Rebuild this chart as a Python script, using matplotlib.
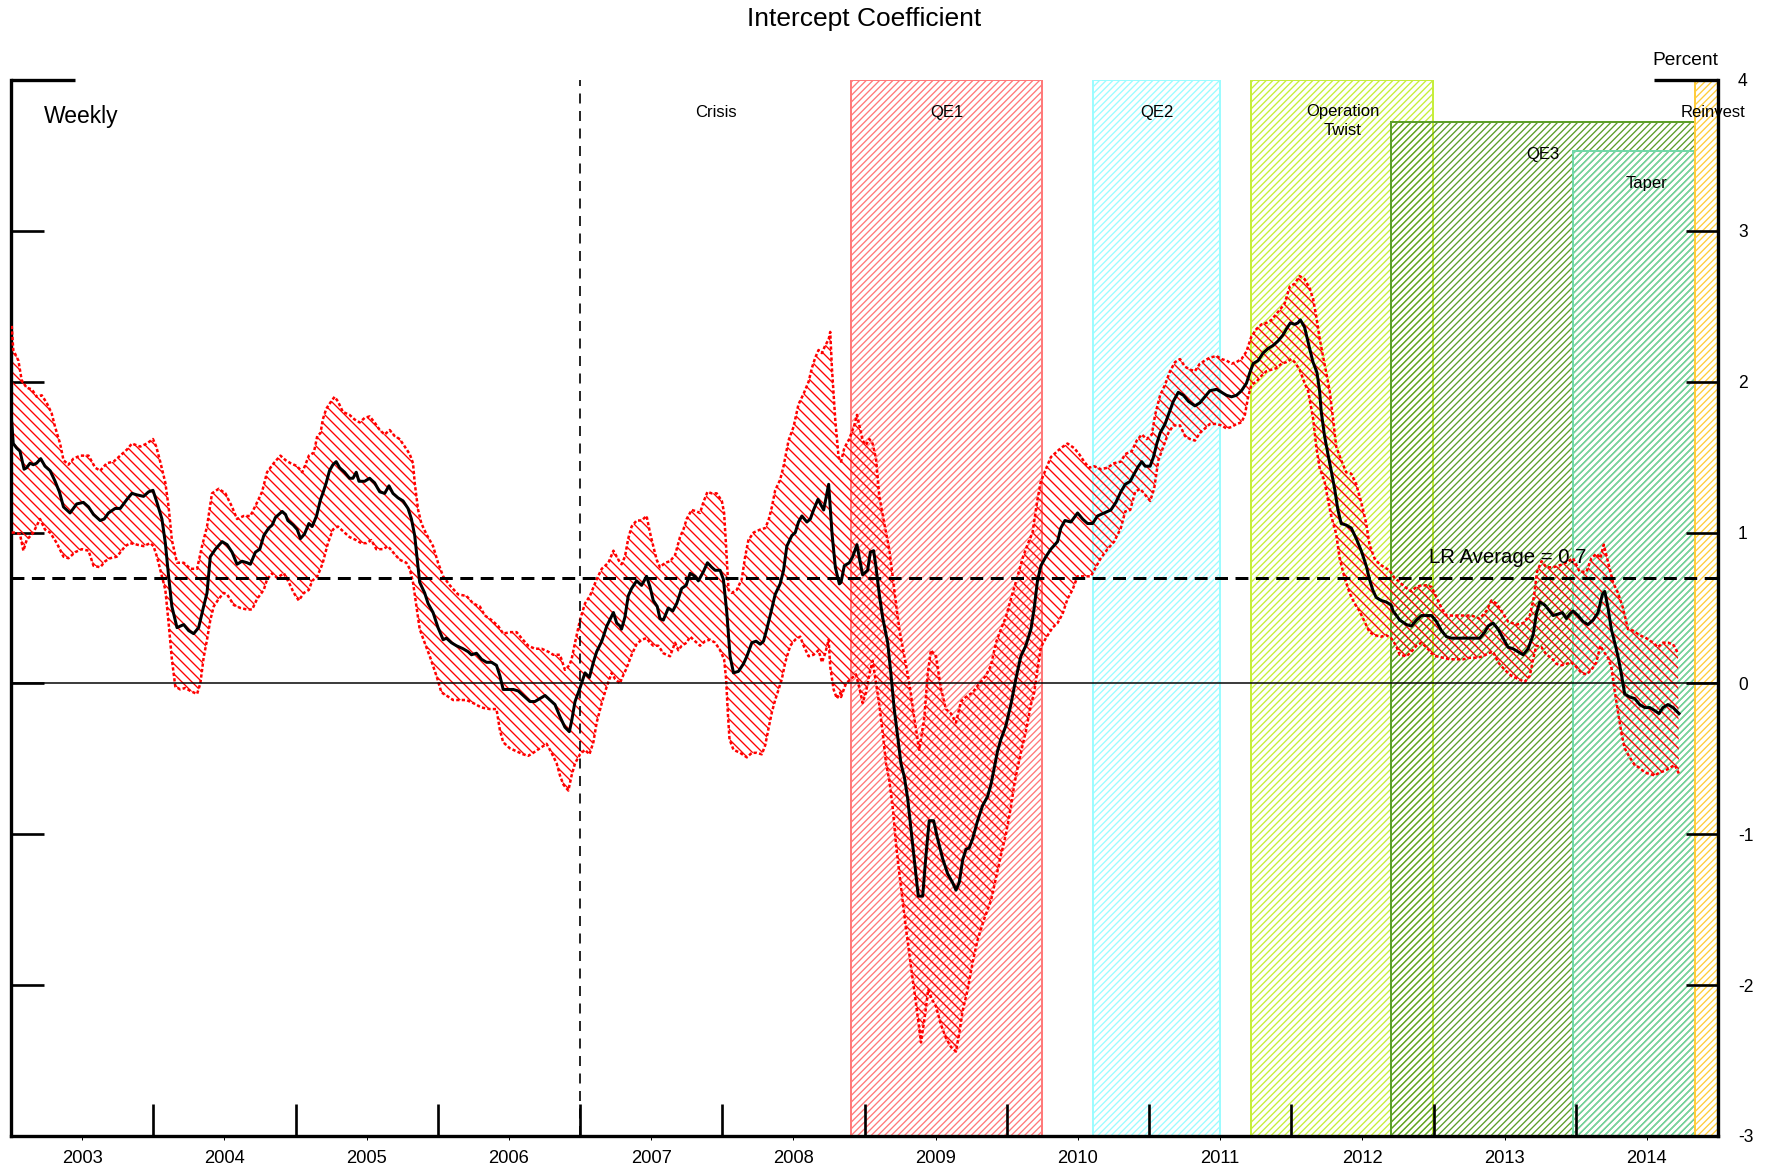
import matplotlib
matplotlib.use("Agg")
import matplotlib.pyplot as plt
from matplotlib.patches import Rectangle
import numpy as np

plt.rcParams['font.family'] = ['Liberation Sans', 'DejaVu Sans']
plt.rcParams['axes.unicode_minus'] = False
plt.rcParams['hatch.linewidth'] = 0.8

# ---------------- data (fractional year, percent) ----------------
LINE_X = [
    2003.005, 2003.016, 2003.040, 2003.063, 2003.092, 2003.110, 2003.134, 2003.157, 2003.180, 2003.209,
    2003.239, 2003.275, 2003.310, 2003.340, 2003.369, 2003.415, 2003.462, 2003.509, 2003.545, 2003.580,
    2003.627, 2003.655, 2003.685, 2003.732, 2003.768, 2003.815, 2003.850, 2003.885, 2003.932, 2003.967,
    2003.998, 2004.026, 2004.061, 2004.085, 2004.108, 2004.131, 2004.167, 2004.214, 2004.249, 2004.284,
    2004.319, 2004.354, 2004.378, 2004.401, 2004.437, 2004.484, 2004.519, 2004.554, 2004.589, 2004.624,
    2004.660, 2004.683, 2004.718, 2004.749, 2004.777, 2004.812, 2004.836, 2004.859, 2004.906, 2004.930,
    2004.946, 2004.984, 2005.012, 2005.035, 2005.063, 2005.094, 2005.117, 2005.148, 2005.176,
    2005.192, 2005.216, 2005.239, 2005.263, 2005.286, 2005.310, 2005.345, 2005.380, 2005.404, 2005.427,
    2005.446, 2005.486, 2005.521, 2005.556, 2005.592, 2005.627, 2005.657, 2005.685, 2005.721, 2005.756,
    2005.791, 2005.815, 2005.838, 2005.854, 2005.873, 2005.908, 2005.932, 2005.967, 2006.002, 2006.038,
    2006.061, 2006.096, 2006.131, 2006.178, 2006.214, 2006.237, 2006.272, 2006.308, 2006.343, 2006.378,
    2006.413, 2006.437, 2006.460, 2006.495, 2006.531, 2006.566, 2006.601, 2006.648, 2006.683, 2006.718,
    2006.754, 2006.789, 2006.824, 2006.859, 2006.894, 2006.925, 2006.941, 2006.965, 2007.000, 2007.035,
    2007.066, 2007.094, 2007.117, 2007.153, 2007.188, 2007.235, 2007.258, 2007.282,
    2007.292, 2007.316, 2007.339, 2007.363, 2007.398, 2007.433, 2007.468, 2007.492, 2007.515, 2007.543,
    2007.562, 2007.586, 2007.621, 2007.652, 2007.680, 2007.715, 2007.746, 2007.774, 2007.809, 2007.832,
    2007.867, 2007.896, 2007.926, 2007.950, 2007.985, 2008.008, 2008.032, 2008.055, 2008.079, 2008.114,
    2008.149, 2008.173, 2008.208, 2008.238, 2008.267, 2008.290, 2008.313, 2008.342, 2008.372, 2008.407,
    2008.431, 2008.454, 2008.489, 2008.513, 2008.536, 2008.560, 2008.595, 2008.619, 2008.642, 2008.673,
    2008.713, 2008.748, 2008.772, 2008.795, 2008.823,
    2008.835, 2008.858, 2008.893, 2008.917, 2008.947, 2008.964, 2008.987, 2009.022, 2009.041, 2009.064,
    2009.081, 2009.104, 2009.127, 2009.163, 2009.186, 2009.209, 2009.233, 2009.256, 2009.280, 2009.303,
    2009.327, 2009.350, 2009.378, 2009.409, 2009.432, 2009.455, 2009.486, 2009.514, 2009.549, 2009.584,
    2009.619, 2009.643, 2009.666, 2009.690, 2009.713, 2009.736, 2009.760, 2009.795, 2009.830, 2009.865,
    2009.889, 2009.912, 2009.935, 2009.959, 2009.994, 2010.029, 2010.064, 2010.099, 2010.134, 2010.170,
    2010.193, 2010.216, 2010.240, 2010.275, 2010.310, 2010.357, 2010.380, 2010.409, 2010.451, 2010.498,
    2010.533, 2010.568, 2010.603, 2010.638, 2010.685, 2010.732, 2010.767, 2010.802,
    2010.833, 2010.868, 2010.896, 2010.926, 2010.949, 2010.973, 2011.008, 2011.031, 2011.055, 2011.078,
    2011.113, 2011.136, 2011.171, 2011.206, 2011.242, 2011.277, 2011.323, 2011.358, 2011.393, 2011.428,
    2011.475, 2011.510, 2011.545, 2011.580, 2011.615, 2011.650, 2011.685, 2011.709, 2011.732, 2011.767,
    2011.802, 2011.837, 2011.872, 2011.907, 2011.942, 2011.966, 2011.994, 2012.024, 2012.047, 2012.064,
    2012.094, 2012.129, 2012.153, 2012.181, 2012.199, 2012.211, 2012.234, 2012.258, 2012.281, 2012.305,
    2012.328, 2012.351, 2012.386, 2012.422, 2012.457, 2012.492, 2012.527, 2012.550, 2012.573, 2012.597,
    2012.632, 2012.667, 2012.702,
    2012.716, 2012.763, 2012.810, 2012.845, 2012.880, 2012.915, 2012.951, 2012.986, 2013.021, 2013.056,
    2013.091, 2013.126, 2013.185, 2013.243, 2013.278, 2013.325, 2013.360, 2013.384, 2013.419, 2013.454,
    2013.489, 2013.524, 2013.559, 2013.595, 2013.630, 2013.665, 2013.700, 2013.723, 2013.747, 2013.782,
    2013.817, 2013.841, 2013.876, 2013.906, 2013.934, 2013.958, 2013.981, 2014.016, 2014.051, 2014.086,
    2014.122, 2014.157, 2014.187, 2014.204, 2014.227, 2014.250, 2014.274, 2014.297, 2014.321, 2014.344,
    2014.379, 2014.414, 2014.449, 2014.485, 2014.520, 2014.555, 2014.585, 2014.613, 2014.648, 2014.684,
    2014.726,
]
LINE_Y = [
    1.73, 1.59, 1.56, 1.54, 1.42, 1.43, 1.46, 1.45, 1.46, 1.49,
    1.44, 1.41, 1.34, 1.27, 1.17, 1.13, 1.19, 1.20, 1.17, 1.12,
    1.08, 1.09, 1.13, 1.16, 1.16, 1.22, 1.26, 1.25, 1.24, 1.27,
    1.28, 1.20, 1.09, 0.93, 0.71, 0.51, 0.37, 0.39, 0.35, 0.33,
    0.37, 0.51, 0.60, 0.84, 0.89, 0.94, 0.92, 0.87, 0.79, 0.81,
    0.80, 0.79, 0.87, 0.89, 0.98, 1.03, 1.05, 1.10, 1.14, 1.12,
    1.08, 1.05, 1.02, 0.96, 0.99, 1.06, 1.04, 1.11, 1.22,
    1.26, 1.33, 1.41, 1.45, 1.47, 1.43, 1.40, 1.36, 1.36, 1.40,
    1.34, 1.34, 1.36, 1.33, 1.27, 1.26, 1.31, 1.26, 1.23, 1.21,
    1.16, 1.09, 0.98, 0.84, 0.67, 0.60, 0.53, 0.47, 0.37, 0.29,
    0.30, 0.27, 0.25, 0.23, 0.21, 0.19, 0.20, 0.16, 0.14, 0.14,
    0.12, 0.05, -0.04, -0.04, -0.04, -0.05, -0.08, -0.12, -0.12, -0.10,
    -0.08, -0.11, -0.14, -0.22, -0.29, -0.32, -0.25, -0.12, -0.03, 0.07,
    0.04, 0.14, 0.21, 0.28, 0.38, 0.47, 0.40, 0.38,
    0.36, 0.44, 0.58, 0.63, 0.68, 0.65, 0.71, 0.64, 0.55, 0.51,
    0.43, 0.42, 0.50, 0.48, 0.53, 0.63, 0.65, 0.73, 0.71, 0.68,
    0.74, 0.80, 0.77, 0.75, 0.75, 0.69, 0.47, 0.18, 0.07, 0.08,
    0.13, 0.18, 0.27, 0.28, 0.26, 0.28, 0.36, 0.47, 0.59, 0.66,
    0.75, 0.91, 0.98, 1.00, 1.07, 1.11, 1.07, 1.09, 1.15, 1.22,
    1.15, 1.32, 0.99, 0.77, 0.66,
    0.67, 0.78, 0.80, 0.84, 0.92, 0.83, 0.72, 0.75, 0.87, 0.88,
    0.77, 0.59, 0.44, 0.27, 0.06, -0.17, -0.35, -0.53, -0.62, -0.76,
    -0.97, -1.17, -1.41, -1.41, -1.14, -0.91, -0.91, -1.03, -1.16, -1.26,
    -1.32, -1.37, -1.32, -1.17, -1.10, -1.09, -1.03, -0.91, -0.81, -0.75,
    -0.67, -0.56, -0.45, -0.37, -0.28, -0.14, 0.03, 0.18, 0.25, 0.36,
    0.50, 0.68, 0.78, 0.84, 0.89, 0.94, 1.03, 1.08, 1.07, 1.13,
    1.09, 1.06, 1.06, 1.11, 1.13, 1.15, 1.20, 1.27,
    1.32, 1.34, 1.39, 1.44, 1.47, 1.44, 1.44, 1.50, 1.59, 1.66,
    1.72, 1.78, 1.87, 1.93, 1.91, 1.87, 1.84, 1.86, 1.90, 1.94,
    1.95, 1.93, 1.91, 1.90, 1.91, 1.94, 1.99, 2.06, 2.12, 2.14,
    2.19, 2.22, 2.24, 2.27, 2.31, 2.35, 2.39, 2.38, 2.39, 2.41,
    2.36, 2.22, 2.13, 2.06, 1.94, 1.80, 1.64, 1.52, 1.41, 1.29,
    1.15, 1.06, 1.05, 1.03, 0.96, 0.88, 0.78, 0.69, 0.62, 0.57,
    0.55, 0.54, 0.52,
    0.48, 0.42, 0.39, 0.38, 0.42, 0.45, 0.45, 0.45, 0.41, 0.35,
    0.31, 0.30, 0.30, 0.30, 0.30, 0.30, 0.34, 0.38, 0.40, 0.36,
    0.30, 0.24, 0.23, 0.21, 0.19, 0.23, 0.32, 0.46, 0.54, 0.52,
    0.48, 0.45, 0.46, 0.47, 0.43, 0.46, 0.48, 0.45, 0.41, 0.39,
    0.42, 0.47, 0.59, 0.61, 0.50, 0.36, 0.27, 0.18, 0.06, -0.07,
    -0.09, -0.10, -0.14, -0.16, -0.16, -0.18, -0.20, -0.16, -0.14, -0.16,
    -0.20,
]

UPPER_X = [
    2003.005, 2003.016, 2003.052, 2003.075, 2003.110, 2003.146, 2003.181, 2003.216, 2003.251, 2003.286,
    2003.310, 2003.345, 2003.369, 2003.404, 2003.439, 2003.486, 2003.545, 2003.592, 2003.627, 2003.674,
    2003.721, 2003.768, 2003.815, 2003.850, 2003.908, 2003.955, 2003.998, 2004.021, 2004.049, 2004.085,
    2004.108, 2004.131, 2004.167, 2004.214, 2004.261, 2004.308, 2004.343, 2004.378, 2004.413, 2004.460,
    2004.507, 2004.554, 2004.589, 2004.636, 2004.683, 2004.730, 2004.765, 2004.800, 2004.847, 2004.894,
    2004.930, 2004.965, 2005.012, 2005.047, 2005.070, 2005.094, 2005.129, 2005.153, 2005.176,
    2005.192, 2005.216, 2005.251, 2005.275, 2005.298, 2005.333, 2005.380, 2005.415, 2005.451, 2005.486,
    2005.521, 2005.556, 2005.592, 2005.627, 2005.662, 2005.697, 2005.732, 2005.768, 2005.803, 2005.826,
    2005.838, 2005.862, 2005.885, 2005.920, 2005.967, 2006.002, 2006.038, 2006.085, 2006.143, 2006.202,
    2006.249, 2006.296, 2006.331, 2006.378, 2006.425, 2006.460, 2006.507, 2006.554, 2006.589, 2006.636,
    2006.683, 2006.730, 2006.777, 2006.812, 2006.859, 2006.894, 2006.925, 2006.941, 2006.965, 2007.000,
    2007.035, 2007.070, 2007.117, 2007.153, 2007.200, 2007.235, 2007.258, 2007.282,
    2007.292, 2007.316, 2007.339, 2007.363, 2007.398, 2007.433, 2007.468, 2007.492, 2007.515, 2007.539,
    2007.562, 2007.598, 2007.633, 2007.668, 2007.703, 2007.727, 2007.750, 2007.785, 2007.820, 2007.844,
    2007.867, 2007.896, 2007.926, 2007.961, 2007.997, 2008.013, 2008.027, 2008.044, 2008.067, 2008.102,
    2008.137, 2008.161, 2008.184, 2008.220, 2008.267, 2008.302, 2008.325, 2008.349, 2008.372, 2008.407,
    2008.431, 2008.466, 2008.501, 2008.536, 2008.572, 2008.607, 2008.630, 2008.654, 2008.677, 2008.701,
    2008.724, 2008.748, 2008.759, 2008.771, 2008.795, 2008.818,
    2008.835, 2008.858, 2008.893, 2008.928, 2008.947, 2008.964, 2008.987, 2009.010, 2009.034, 2009.057,
    2009.081, 2009.104, 2009.139, 2009.174, 2009.198, 2009.221, 2009.245, 2009.280, 2009.315, 2009.350,
    2009.385, 2009.420, 2009.444, 2009.467, 2009.502, 2009.537, 2009.572, 2009.608, 2009.643, 2009.678,
    2009.713, 2009.760, 2009.807, 2009.853, 2009.889, 2009.924, 2009.959, 2009.994, 2010.029, 2010.076,
    2010.111, 2010.146, 2010.181, 2010.216, 2010.240, 2010.275, 2010.310, 2010.345, 2010.380, 2010.427,
    2010.474, 2010.509, 2010.544, 2010.579, 2010.615, 2010.661, 2010.708, 2010.755, 2010.802,
    2010.833, 2010.879, 2010.914, 2010.949, 2010.984, 2011.020, 2011.043, 2011.078, 2011.113, 2011.148,
    2011.183, 2011.218, 2011.253, 2011.288, 2011.323, 2011.358, 2011.393, 2011.428, 2011.475, 2011.510,
    2011.545, 2011.580, 2011.615, 2011.650, 2011.685, 2011.720, 2011.756, 2011.791, 2011.826, 2011.861,
    2011.896, 2011.931, 2011.954, 2011.989, 2012.024, 2012.059, 2012.094, 2012.129, 2012.153, 2012.176,
    2012.199, 2012.223, 2012.246, 2012.270, 2012.293, 2012.316, 2012.351, 2012.386, 2012.422, 2012.457,
    2012.492, 2012.527, 2012.550, 2012.585, 2012.620, 2012.655, 2012.690, 2012.725,
    2012.752, 2012.798, 2012.845, 2012.880, 2012.915, 2012.951, 2012.986, 2013.021, 2013.056, 2013.091,
    2013.150, 2013.208, 2013.267, 2013.325, 2013.372, 2013.407, 2013.442, 2013.478, 2013.524, 2013.583,
    2013.630, 2013.677, 2013.705, 2013.728, 2013.759, 2013.794, 2013.841, 2013.876, 2013.911, 2013.946,
    2013.981, 2014.028, 2014.075, 2014.110, 2014.145, 2014.173, 2014.197, 2014.220, 2014.262, 2014.297,
    2014.332, 2014.367, 2014.403, 2014.449, 2014.496, 2014.543, 2014.578, 2014.613, 2014.648, 2014.684,
    2014.719,
]
UPPER_Y = [
    2.37, 2.21, 2.14, 2.01, 1.96, 1.95, 1.90, 1.91, 1.86, 1.79,
    1.70, 1.59, 1.48, 1.45, 1.49, 1.51, 1.51, 1.43, 1.41, 1.46,
    1.47, 1.51, 1.55, 1.59, 1.57, 1.59, 1.62, 1.57, 1.47, 1.33,
    1.17, 0.95, 0.80, 0.80, 0.76, 0.76, 0.91, 1.04, 1.26, 1.29,
    1.26, 1.17, 1.09, 1.11, 1.11, 1.20, 1.27, 1.40, 1.46, 1.51,
    1.48, 1.46, 1.44, 1.40, 1.45, 1.51, 1.53, 1.64, 1.66,
    1.75, 1.82, 1.87, 1.90, 1.87, 1.80, 1.78, 1.75, 1.73, 1.76,
    1.77, 1.73, 1.68, 1.65, 1.68, 1.64, 1.62, 1.57, 1.52, 1.46,
    1.33, 1.15, 1.06, 0.99, 0.91, 0.80, 0.71, 0.65, 0.59, 0.58,
    0.53, 0.51, 0.45, 0.42, 0.38, 0.33, 0.34, 0.34, 0.30, 0.25,
    0.23, 0.23, 0.21, 0.19, 0.19, 0.09, 0.12, 0.16, 0.27, 0.42,
    0.53, 0.58, 0.69, 0.76, 0.80, 0.88, 0.84, 0.80,
    0.79, 0.84, 0.96, 1.04, 1.08, 1.08, 1.11, 1.00, 0.91, 0.82,
    0.77, 0.80, 0.81, 0.85, 0.97, 1.02, 1.09, 1.15, 1.14, 1.13,
    1.20, 1.27, 1.26, 1.26, 1.21, 1.13, 0.91, 0.62, 0.60, 0.62,
    0.69, 0.84, 0.95, 1.00, 1.02, 1.03, 1.08, 1.17, 1.28, 1.35,
    1.44, 1.61, 1.70, 1.85, 1.92, 2.00, 2.09, 2.16, 2.21, 2.19,
    2.24, 2.28, 2.33, 2.09, 1.74, 1.50,
    1.47, 1.56, 1.62, 1.71, 1.78, 1.71, 1.61, 1.58, 1.62, 1.59,
    1.49, 1.24, 1.06, 0.89, 0.71, 0.53, 0.36, 0.18, 0.00, -0.23,
    -0.44, -0.23, 0.06, 0.22, 0.18, -0.03, -0.17, -0.20, -0.26, -0.12,
    -0.09, -0.06, 0.00, 0.05, 0.12, 0.27, 0.36, 0.44, 0.56, 0.71,
    0.83, 0.92, 1.00, 1.22, 1.34, 1.42, 1.50, 1.53, 1.56, 1.59,
    1.56, 1.52, 1.47, 1.43, 1.44, 1.42, 1.43, 1.46, 1.47,
    1.52, 1.54, 1.61, 1.65, 1.62, 1.65, 1.78, 1.91, 1.98, 2.07,
    2.13, 2.15, 2.10, 2.08, 2.07, 2.12, 2.14, 2.16, 2.17, 2.15,
    2.14, 2.12, 2.13, 2.15, 2.20, 2.30, 2.35, 2.38, 2.39, 2.41,
    2.45, 2.49, 2.52, 2.63, 2.65, 2.70, 2.68, 2.62, 2.55, 2.43,
    2.29, 2.17, 2.06, 1.94, 1.76, 1.57, 1.48, 1.40, 1.39, 1.32,
    1.20, 1.06, 0.92, 0.83, 0.79, 0.77, 0.75, 0.70,
    0.68, 0.64, 0.61, 0.64, 0.65, 0.65, 0.64, 0.57, 0.50, 0.45,
    0.45, 0.45, 0.45, 0.43, 0.48, 0.55, 0.53, 0.48, 0.41, 0.39,
    0.40, 0.45, 0.57, 0.74, 0.81, 0.77, 0.77, 0.78, 0.79, 0.81,
    0.83, 0.74, 0.74, 0.83, 0.86, 0.83, 0.92, 0.83, 0.67, 0.60,
    0.50, 0.36, 0.35, 0.32, 0.30, 0.27, 0.24, 0.27, 0.27, 0.26,
    0.20,
]

LOWER_X = [
    2003.005, 2003.028, 2003.063, 2003.087, 2003.110, 2003.157, 2003.204, 2003.239, 2003.275, 2003.322,
    2003.369, 2003.404, 2003.451, 2003.498, 2003.545, 2003.580, 2003.627, 2003.662, 2003.697, 2003.744,
    2003.803, 2003.838, 2003.885, 2003.932, 2003.979, 2004.002, 2004.026, 2004.061, 2004.085, 2004.108,
    2004.131, 2004.155, 2004.190, 2004.225, 2004.261, 2004.308, 2004.331, 2004.354, 2004.378, 2004.401,
    2004.425, 2004.460, 2004.495, 2004.519, 2004.566, 2004.613, 2004.660, 2004.695, 2004.730, 2004.777,
    2004.800, 2004.836, 2004.871, 2004.918, 2004.953, 2004.988, 2005.023, 2005.059, 2005.094, 2005.117,
    2005.153, 2005.176,
    2005.192, 2005.228, 2005.263, 2005.298, 2005.333, 2005.380, 2005.427, 2005.462, 2005.498, 2005.533,
    2005.568, 2005.615, 2005.650, 2005.685, 2005.732, 2005.779, 2005.803, 2005.826, 2005.850, 2005.873,
    2005.908, 2005.944, 2005.991, 2006.026, 2006.061, 2006.108, 2006.155, 2006.202, 2006.249, 2006.308,
    2006.366, 2006.413, 2006.437, 2006.460, 2006.507, 2006.554, 2006.601, 2006.636, 2006.671, 2006.718,
    2006.765, 2006.800, 2006.836, 2006.859, 2006.883, 2006.918, 2006.941, 2006.965, 2007.000, 2007.035,
    2007.066, 2007.094, 2007.117, 2007.153, 2007.188, 2007.223, 2007.246, 2007.282,
    2007.292, 2007.327, 2007.363, 2007.398, 2007.433, 2007.468, 2007.492, 2007.515, 2007.550, 2007.586,
    2007.609, 2007.633, 2007.668, 2007.691, 2007.715, 2007.750, 2007.774, 2007.820, 2007.844, 2007.879,
    2007.914, 2007.950, 2007.985, 2008.013, 2008.027, 2008.039, 2008.051, 2008.079, 2008.126, 2008.173,
    2008.208, 2008.243, 2008.278, 2008.302, 2008.325, 2008.349, 2008.372, 2008.396, 2008.419, 2008.443,
    2008.478, 2008.513, 2008.548, 2008.572, 2008.607, 2008.642, 2008.677, 2008.701, 2008.724, 2008.748,
    2008.759, 2008.783, 2008.806, 2008.830,
    2008.835, 2008.870, 2008.905, 2008.940, 2008.964, 2008.987, 2009.010, 2009.034, 2009.057, 2009.081,
    2009.104, 2009.127, 2009.151, 2009.174, 2009.198, 2009.221, 2009.245, 2009.268, 2009.291, 2009.327,
    2009.362, 2009.397, 2009.425, 2009.448, 2009.472, 2009.502, 2009.537, 2009.572, 2009.608, 2009.643,
    2009.666, 2009.690, 2009.725, 2009.760, 2009.795, 2009.842, 2009.889, 2009.924, 2009.959, 2009.994,
    2010.029, 2010.053, 2010.076, 2010.111, 2010.134, 2010.170, 2010.193, 2010.216, 2010.240, 2010.275,
    2010.322, 2010.357, 2010.392, 2010.427, 2010.462, 2010.498, 2010.521, 2010.556, 2010.591, 2010.626,
    2010.661, 2010.708, 2010.755, 2010.802,
    2010.833, 2010.868, 2010.903, 2010.938, 2010.973, 2011.008, 2011.036, 2011.066, 2011.101, 2011.136,
    2011.171, 2011.218, 2011.253, 2011.288, 2011.323, 2011.358, 2011.393, 2011.428, 2011.475, 2011.510,
    2011.545, 2011.580, 2011.615, 2011.650, 2011.674, 2011.697, 2011.720, 2011.756, 2011.791, 2011.826,
    2011.861, 2011.896, 2011.931, 2011.966, 2012.001, 2012.024, 2012.059, 2012.094, 2012.118, 2012.153,
    2012.176, 2012.199, 2012.234, 2012.258, 2012.281, 2012.316, 2012.340, 2012.375, 2012.410, 2012.445,
    2012.480, 2012.515, 2012.550, 2012.585, 2012.632, 2012.667, 2012.702, 2012.737,
    2012.763, 2012.810, 2012.845, 2012.880, 2012.915, 2012.951, 2012.986, 2013.021, 2013.068, 2013.115,
    2013.161, 2013.208, 2013.255, 2013.302, 2013.349, 2013.384, 2013.419, 2013.454, 2013.501, 2013.548,
    2013.595, 2013.641, 2013.677, 2013.700, 2013.723, 2013.759, 2013.794, 2013.829, 2013.864, 2013.899,
    2013.934, 2013.969, 2014.004, 2014.040, 2014.075, 2014.110, 2014.145, 2014.173, 2014.197, 2014.227,
    2014.250, 2014.274, 2014.297, 2014.321, 2014.344, 2014.379, 2014.414, 2014.449, 2014.485, 2014.520,
    2014.555, 2014.590, 2014.625, 2014.660, 2014.696, 2014.726,
]
LOWER_Y = [
    1.00, 1.00, 0.99, 0.88, 0.95, 1.00, 1.09, 1.02, 1.00, 0.93,
    0.84, 0.83, 0.87, 0.89, 0.88, 0.78, 0.77, 0.81, 0.83, 0.84,
    0.91, 0.93, 0.92, 0.91, 0.93, 0.91, 0.84, 0.71, 0.62, 0.40,
    0.16, -0.02, -0.04, -0.03, -0.05, -0.07, 0.00, 0.17, 0.29, 0.42,
    0.51, 0.56, 0.60, 0.59, 0.52, 0.50, 0.49, 0.49, 0.56, 0.62,
    0.69, 0.73, 0.70, 0.73, 0.67, 0.60, 0.55, 0.60, 0.62, 0.68,
    0.71, 0.76,
    0.80, 0.93, 1.02, 1.04, 1.01, 0.97, 0.95, 0.93, 0.93, 0.95,
    0.89, 0.89, 0.91, 0.87, 0.82, 0.80, 0.76, 0.67, 0.51, 0.36,
    0.27, 0.18, 0.05, -0.06, -0.08, -0.11, -0.11, -0.11, -0.13, -0.16,
    -0.17, -0.17, -0.31, -0.39, -0.43, -0.45, -0.47, -0.48, -0.46, -0.43,
    -0.40, -0.46, -0.53, -0.61, -0.67, -0.71, -0.61, -0.53, -0.47, -0.44,
    -0.47, -0.39, -0.26, -0.13, -0.02, 0.07, 0.03, 0.00,
    0.03, 0.10, 0.19, 0.26, 0.29, 0.30, 0.27, 0.25, 0.25, 0.20,
    0.19, 0.18, 0.27, 0.22, 0.25, 0.27, 0.31, 0.27, 0.25, 0.28,
    0.29, 0.27, 0.22, 0.16, 0.03, -0.19, -0.37, -0.44, -0.46, -0.49,
    -0.46, -0.46, -0.47, -0.41, -0.30, -0.19, -0.11, -0.04, 0.03, 0.14,
    0.25, 0.29, 0.31, 0.25, 0.18, 0.19, 0.22, 0.14, 0.20, 0.29,
    0.11, -0.04, -0.10, -0.06,
    -0.09, 0.00, 0.03, 0.06, -0.03, -0.13, -0.06, 0.06, 0.15, 0.00,
    -0.14, -0.32, -0.53, -0.64, -0.82, -1.06, -1.26, -1.44, -1.62, -1.88,
    -2.12, -2.38, -2.20, -2.03, -2.09, -2.14, -2.26, -2.35, -2.41, -2.44,
    -2.32, -2.17, -2.03, -1.85, -1.70, -1.56, -1.44, -1.29, -1.14, -1.00,
    -0.82, -0.67, -0.56, -0.41, -0.32, -0.14, -0.06, 0.09, 0.24, 0.30,
    0.37, 0.40, 0.46, 0.56, 0.62, 0.71, 0.71, 0.71, 0.71, 0.77,
    0.83, 0.89, 0.94, 1.03,
    1.14, 1.15, 1.27, 1.29, 1.25, 1.21, 1.29, 1.48, 1.57, 1.66,
    1.71, 1.71, 1.64, 1.62, 1.61, 1.66, 1.69, 1.72, 1.72, 1.71,
    1.69, 1.70, 1.72, 1.73, 1.78, 1.90, 1.98, 2.00, 2.04, 2.07,
    2.08, 2.09, 2.12, 2.13, 2.15, 2.13, 2.08, 1.99, 1.94, 1.76,
    1.57, 1.43, 1.34, 1.22, 1.11, 0.99, 0.83, 0.70, 0.60, 0.53,
    0.48, 0.41, 0.34, 0.32, 0.31, 0.32, 0.30, 0.25,
    0.19, 0.18, 0.21, 0.25, 0.27, 0.24, 0.20, 0.18, 0.17, 0.16,
    0.16, 0.16, 0.17, 0.17, 0.18, 0.20, 0.21, 0.14, 0.09, 0.05,
    0.03, 0.01, 0.05, 0.16, 0.25, 0.24, 0.19, 0.17, 0.13, 0.12,
    0.13, 0.14, 0.11, 0.07, 0.06, 0.09, 0.14, 0.25, 0.21, 0.17,
    0.11, -0.05, -0.19, -0.33, -0.43, -0.49, -0.54, -0.56, -0.59, -0.60,
    -0.61, -0.59, -0.58, -0.56, -0.54, -0.60,
]

LR_AVERAGE = 0.7
CRISIS_DATE = 2007.0

PROGRAM_NAMES = ["QE1", "QE2", "Operation\nTwist", "QE3", "Taper", "Reinvest"]
PROGRAM_START = [2008.905, 2010.606, 2011.72, 2012.70, 2013.98, 2014.835]
PROGRAM_END = [2010.25, 2011.50, 2013.00, 2014.835, 2014.835, 2015.0]
PROGRAM_TOP = [4.0, 4.0, 4.0, 3.72, 3.53, 4.0]
PROGRAM_COLORS = ['#ff7a7a', '#9cfcff', '#c6ee3c', '#5c9e2a', '#72d8a8', '#ffcc3c']
LABEL_DX = [0.0, 0.0, 0.0, 0.0, 0.09, 0.045]   # label offset from box centre

YEAR_LABELS = [str(y) for y in range(2003, 2015)]
Y_TICKS = list(range(-3, 5))

# ---------------- figure ----------------
DPI = 120
fig = plt.figure(figsize=(1773 / DPI, 1171 / DPI), dpi=DPI)
ax = fig.add_axes([11 / 1773, 35 / 1171, (1718 - 11) / 1773, (1136 - 80) / 1171])
ax.set_xlim(2003, 2015)
ax.set_ylim(-3, 4)

# program period boxes
for name, s, e, top, col, dx in zip(PROGRAM_NAMES, PROGRAM_START, PROGRAM_END,
                                    PROGRAM_TOP, PROGRAM_COLORS, LABEL_DX):
    ax.add_patch(Rectangle((s, -3), e - s, top + 3, fill=False, hatch='//////',
                           edgecolor=col, linewidth=1.2, zorder=1))
    ty = top - (0.27 if '\n' in name else 0.215)
    ax.text((s + e) / 2 + dx, ty, name, ha='center', va='center', fontsize=10,
            linespacing=1.3, zorder=6, clip_on=False)

# confidence band
ux, uy = np.array(UPPER_X), np.array(UPPER_Y)
lx, ly = np.array(LOWER_X), np.array(LOWER_Y)
ax.fill(np.concatenate([ux, lx[::-1]]), np.concatenate([uy, ly[::-1]]),
        facecolor='none', edgecolor='red', linewidth=0, hatch='\\\\\\\\', zorder=2)
ax.plot(ux, uy, color='red', lw=1.5, ls=(0, (1.3, 0.9)), zorder=3)
ax.plot(lx, ly, color='red', lw=1.5, ls=(0, (1.3, 0.9)), zorder=3)

# estimate
ax.plot(LINE_X, LINE_Y, color='black', lw=1.8, zorder=5)

# reference lines
ax.axhline(0, color='black', lw=0.9, zorder=4)
ax.axhline(LR_AVERAGE, color='black', lw=1.8, ls=(0, (4.3, 2.5)), zorder=4)
ax.axvline(CRISIS_DATE, color='black', lw=1.0, ls=(0, (6, 4.5)), zorder=4)
ax.text(2012.97, LR_AVERAGE + 0.10, 'LR Average = %.1f' % LR_AVERAGE,
        ha='left', va='baseline', fontsize=12.2, zorder=6)
ax.text((CRISIS_DATE + PROGRAM_START[0]) / 2, 3.785, 'Crisis', ha='center',
        va='center', fontsize=10, zorder=6)

# texts
ax.text(2003.23, 3.755, 'Weekly', ha='left', va='center', fontsize=13.7)
ax.text(2015.0, 4.13, 'Percent', ha='right', va='center', fontsize=11.5, clip_on=False)
fig.text(864 / 1773, 1 - 19 / 1171, 'Intercept Coefficient', ha='center',
         va='center', fontsize=15.8)

# spines / axes decorations
for side in ['left', 'right', 'bottom']:
    ax.spines[side].set_linewidth(2.0)
ax.spines['top'].set_visible(False)
ax.plot([2003.0, 2003.45], [4, 4], color='black', lw=2.0, clip_on=False,
        solid_capstyle='butt', zorder=7)
ax.plot([2014.55, 2015.0], [4, 4], color='black', lw=2.0, clip_on=False,
        solid_capstyle='butt', zorder=7)

ax.set_yticks(Y_TICKS)
ax.set_yticklabels([str(v) for v in Y_TICKS])
ax.tick_params(axis='y', which='major', direction='in', length=19.5, width=1.6,
               left=True, right=True, labelleft=False, labelright=True,
               labelsize=10.5, pad=12)

ax.set_xticks(range(2004, 2015))
ax.set_xticklabels([])
ax.set_xticks(np.arange(2003.5, 2015, 1.0), minor=True)
ax.set_xticklabels(YEAR_LABELS, minor=True)
ax.tick_params(axis='x', which='major', direction='in', length=19.5, width=1.6,
               labelbottom=False)
ax.tick_params(axis='x', which='minor', direction='out', length=2.5, width=0.6,
               labelsize=11, pad=6)

fig.savefig('out.png', dpi=DPI)
